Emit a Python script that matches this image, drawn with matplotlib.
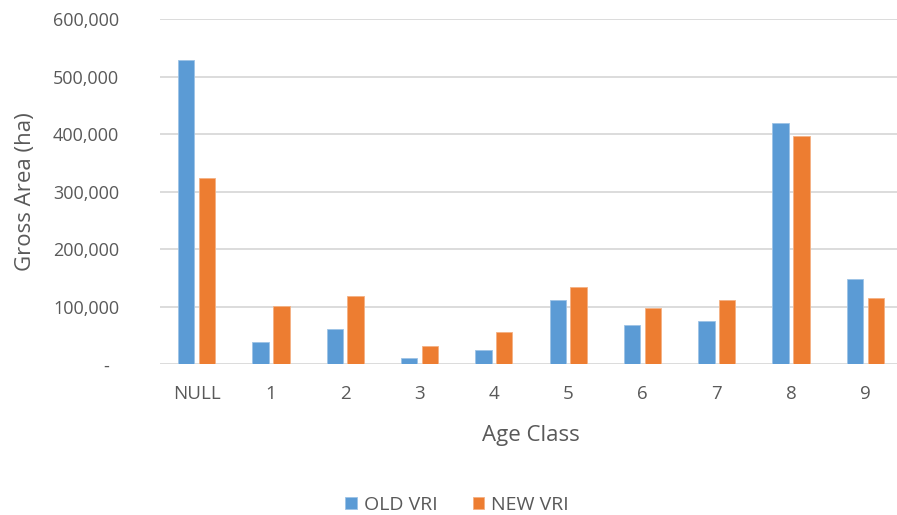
import matplotlib as mpl
mpl.use('Agg')
import matplotlib.pyplot as plt
import numpy as np

# Gross area by age class
age_classes = ['NULL', '1', '2', '3', '4', '5', '6', '7', '8', '9']
old_vri = [530000, 39000, 61500, 11600, 25600, 112500, 67500, 76000, 419000, 148500]
new_vri = [324000, 101000, 118000, 31000, 56000, 134500, 98700, 112500, 397000, 115000]
y_ticks = [0, 100000, 200000, 300000, 400000, 500000, 600000]
y_tick_labels = ['-', '100,000', '200,000', '300,000', '400,000', '500,000', '600,000']

blue = '#5B9BD5'
orange = '#ED7D31'
text_col = '#595959'
grid_col = '#D9D9D9'

plt.rcParams['font.family'] = ['Open Sans', 'DejaVu Sans']

W, H = 897, 515
fig = plt.figure(figsize=(W / 100, H / 100), dpi=100)
# axes placed in pixel terms (plot area runs a bit past the right edge)
left, right, top, bottom = 159.5, 902.5, 19.3, 364.3
ax = fig.add_axes([left / W, 1 - bottom / H, (right - left) / W, (bottom - top) / H])

x = np.arange(len(age_classes))
bw = 0.22
ax.bar(x - 0.14, old_vri, bw, color=blue, edgecolor='#9DC3E6', linewidth=0.6, label='OLD VRI', zorder=3)
ax.bar(x + 0.14, new_vri, bw, color=orange, edgecolor='#F4B183', linewidth=0.6, label='NEW VRI', zorder=3)

ax.set_xlim(-0.5, len(age_classes) - 0.5)
ax.set_ylim(0, 600000)
ax.set_yticks(y_ticks)
ax.set_yticklabels(y_tick_labels)
ax.set_xticks(x)
ax.set_xticklabels(age_classes)

for s in ax.spines.values():
    s.set_visible(False)
ax.yaxis.grid(True, color=grid_col, linewidth=1.3, zorder=0)
ax.set_axisbelow(True)
ax.tick_params(axis='both', length=0, colors=text_col)
ax.tick_params(axis='y', pad=29, labelsize=13)
ax.tick_params(axis='x', pad=15, labelsize=13.5)
# the dash for zero sits a little to the left in the original
zero_lbl = ax.get_yticklabels()[0]
zero_lbl.set_transform(zero_lbl.get_transform() + mpl.transforms.ScaledTranslation(-0.1, 0, fig.dpi_scale_trans))

fig.text(25 / W, 1 - 192 / H, 'Gross Area (ha)', rotation=90, ha='center', va='center',
         fontsize=16, color=text_col)
fig.text(531 / W, 1 - 436 / H, 'Age Class', ha='center', va='center', fontsize=16, color=text_col)

leg = fig.legend(loc='center', bbox_to_anchor=(457 / W, 1 - 505 / H), ncol=2, frameon=False,
                 fontsize=14, handlelength=0.6, handleheight=0.6, handletextpad=0.35, columnspacing=1.8)
for t in leg.get_texts():
    t.set_color(text_col)

fig.savefig('out.png', dpi=100, facecolor='white')
